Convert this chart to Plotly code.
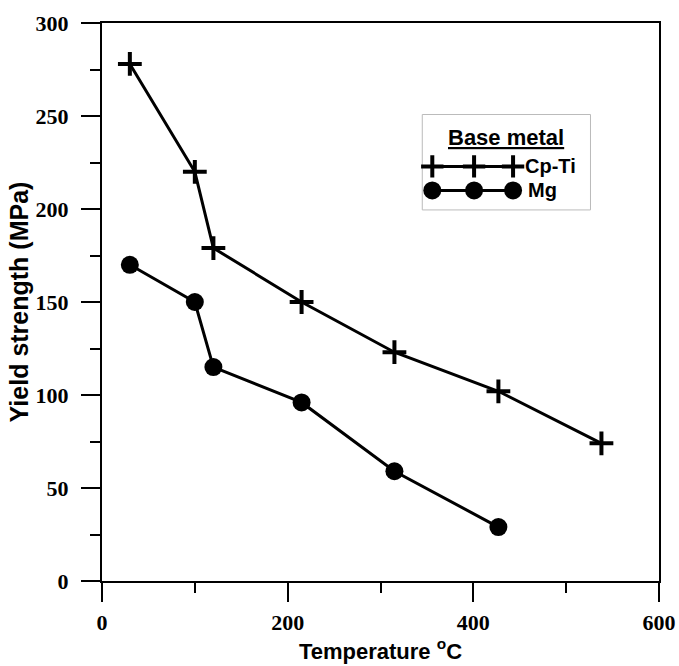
import plotly.graph_objects as go

# Data
temp_ti = [30, 100, 120, 215, 315, 427, 538]
ys_ti = [278, 220, 179, 150, 123, 102, 74]
temp_mg = [30, 100, 120, 215, 315, 427]
ys_mg = [170, 150, 115, 96, 59, 29]

x_ticks = [0, 200, 400, 600]
y_ticks = [0, 50, 100, 150, 200, 250, 300]

# legend layout (fractions of plot area)
leg_x = [0.593, 0.668, 0.738]
leg_y_ti = 0.743
leg_y_mg = 0.700

fig = go.Figure()

fig.add_trace(go.Scatter(
    x=temp_ti, y=ys_ti, mode="lines+markers", name="Cp-Ti",
    line=dict(color="black", width=3),
    marker=dict(symbol="cross-thin", size=17, color="black",
                line=dict(color="black", width=4)),
))
fig.add_trace(go.Scatter(
    x=temp_mg, y=ys_mg, mode="lines+markers", name="Mg",
    line=dict(color="black", width=3),
    marker=dict(symbol="circle", size=18, color="black"),
))

# custom legend samples on an auxiliary 0..1 axis
fig.add_trace(go.Scatter(
    x=leg_x, y=[leg_y_ti] * 3, xaxis="x2", yaxis="y2", mode="lines+markers",
    line=dict(color="black", width=3), hoverinfo="skip",
    marker=dict(symbol="cross-thin", size=16, color="black",
                line=dict(color="black", width=4)),
))
fig.add_trace(go.Scatter(
    x=leg_x, y=[leg_y_mg] * 3, xaxis="x2", yaxis="y2", mode="lines+markers",
    line=dict(color="black", width=3), hoverinfo="skip",
    marker=dict(symbol="circle", size=18, color="black"),
))

tick_font = dict(family="Liberation Serif", size=22, color="black", weight="bold")
title_font = dict(family="Liberation Sans", size=22, color="black", weight="bold")

fig.update_layout(
    width=679, height=666,
    margin=dict(l=102, r=20, t=23, b=85),
    paper_bgcolor="white", plot_bgcolor="white",
    showlegend=False,
    xaxis=dict(
        range=[0, 600], tickvals=x_ticks, ticktext=[str(v) for v in x_ticks],
        ticks="outside", ticklen=19, tickwidth=2, tickcolor="black",
        minor=dict(dtick=100, ticks="outside", ticklen=10, tickwidth=2, tickcolor="black"),
        showline=True, linecolor="black", linewidth=2, mirror=True,
        showgrid=False, zeroline=False, tickfont=tick_font,
        ticklabelstandoff=2, automargin=False,
        title=dict(text="Temperature <sup>o</sup>C", font=title_font, standoff=8),
    ),
    yaxis=dict(
        range=[0, 300], tickvals=y_ticks, ticktext=[str(v) for v in y_ticks],
        ticks="outside", ticklen=19, tickwidth=2, tickcolor="black",
        minor=dict(dtick=25, ticks="outside", ticklen=10, tickwidth=2, tickcolor="black"),
        showline=True, linecolor="black", linewidth=2, mirror=True,
        showgrid=False, zeroline=False, tickfont=tick_font,
        ticklabelstandoff=8, automargin=False,
        title=dict(text="Yield strength (MPa)",
                   font=dict(family="Liberation Sans", size=25, color="black", weight="bold"),
                   standoff=0),
    ),
    xaxis2=dict(overlaying="x", range=[0, 1], visible=False, showgrid=False),
    yaxis2=dict(overlaying="y", range=[0, 1], visible=False, showgrid=False),
    shapes=[dict(type="rect", xref="paper", yref="paper",
                 x0=0.575, x1=0.877, y0=0.665, y1=0.836,
                 line=dict(color="#bbbbbb", width=1), fillcolor="rgba(0,0,0,0)",
                 layer="below")],
    annotations=[
        dict(text="<u>Base metal</u>", x=0.726, y=0.795, xref="paper", yref="paper",
             showarrow=False, xanchor="center", yanchor="middle",
             font=dict(family="Liberation Sans", size=22, color="black", weight="bold")),
        dict(text="Cp-Ti", x=0.756, y=leg_y_ti, xref="paper", yref="paper",
             showarrow=False, xanchor="left", yanchor="middle",
             font=dict(family="Liberation Sans", size=20, color="black", weight="bold")),
        dict(text="Mg", x=0.762, y=leg_y_mg, xref="paper", yref="paper",
             showarrow=False, xanchor="left", yanchor="middle",
             font=dict(family="Liberation Sans", size=20, color="black", weight="bold")),
    ],
)

fig.write_html("out.html")
